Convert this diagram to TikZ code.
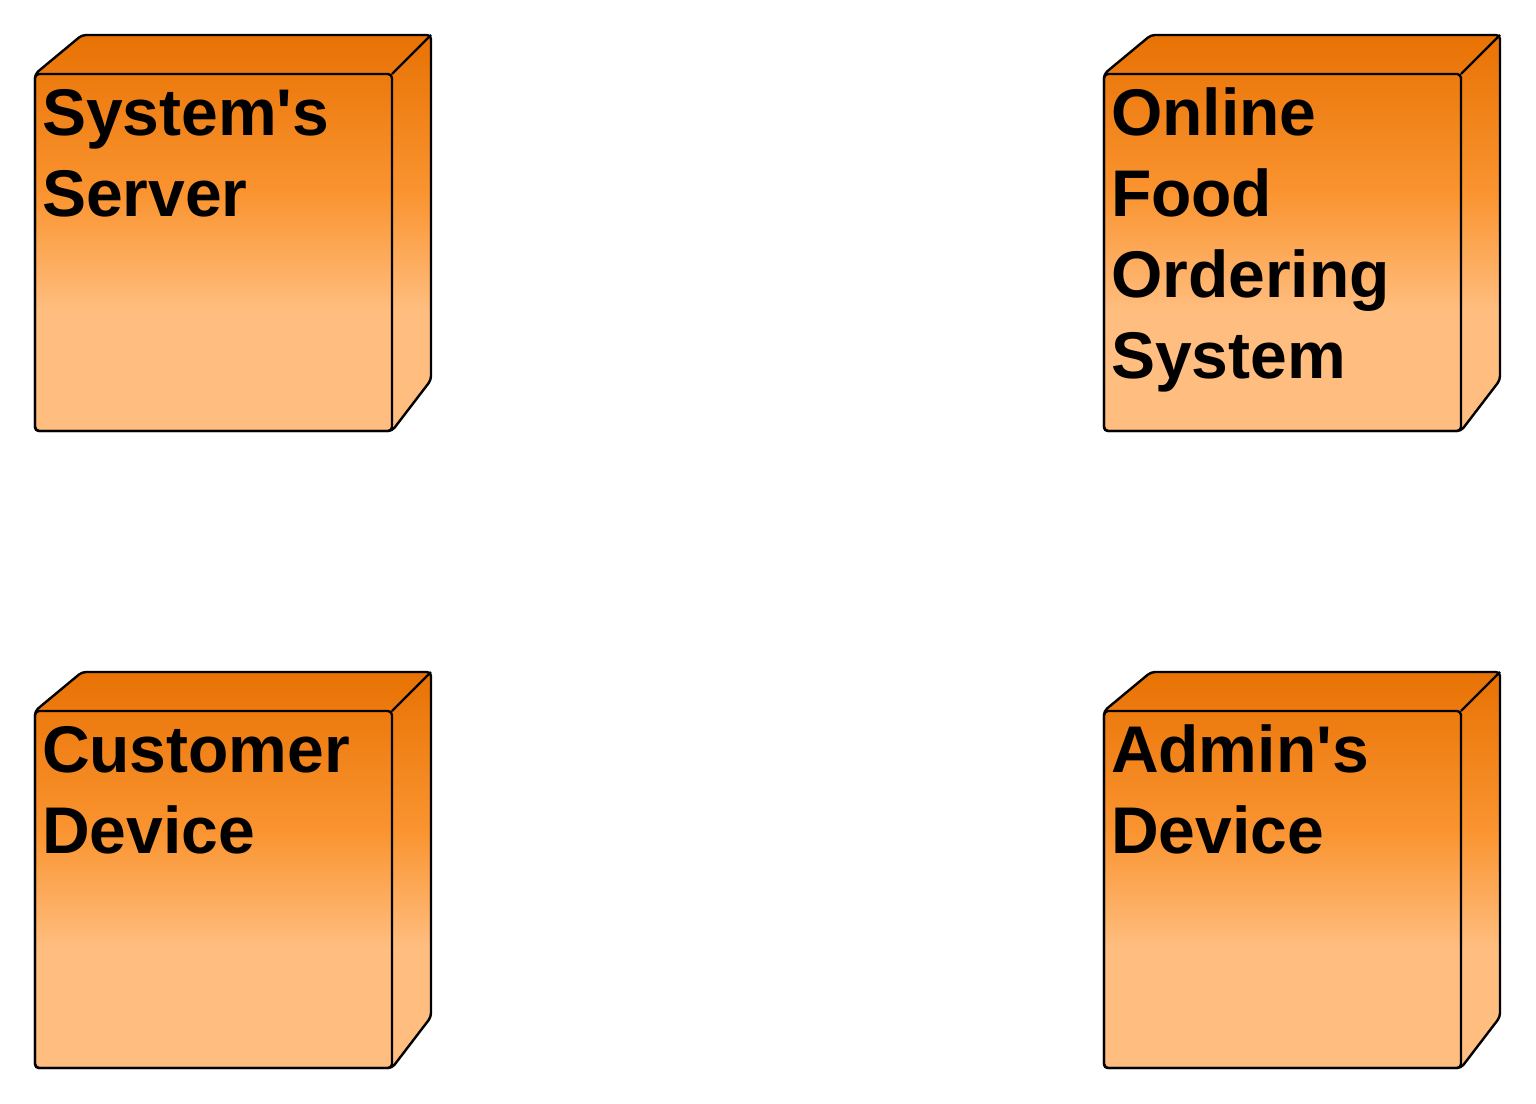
\documentclass[tikz,border=0pt]{standalone}
\usepackage{fontspec}
\setmainfont{Liberation Sans}
\usetikzlibrary{calc, backgrounds}
\definecolor{bodytop}{RGB}{232,114,4}
\definecolor{bodymid}{RGB}{250,148,48}
\definecolor{bodylow}{RGB}{255,190,128}
\pgfdeclareverticalshading{nodebody}{100bp}{color(0bp)=(bodylow); color(40bp)=(bodylow); color(55bp)=(bodymid); color(75bp)=(bodytop); color(100bp)=(bodytop)}

\begin{document}
\begin{tikzpicture}[
		x=0.5pt, y=-0.5pt,
		front/.style={draw=black, line width=1.2pt, rounded corners=2pt, anchor=north west,
			outer sep=0pt, inner xsep=3.5pt, inner ysep=0pt, text width=171.5pt,
			text height=30.5pt, text depth=148pt, align=left,
			font=\bfseries\fontsize{33}{40.5}\selectfont},
		body/.style={draw=black, line width=1.2pt, rounded corners=2pt, shading=nodebody},
		edge/.style={draw=black, line width=1.2pt}
		]
		\useasboundingbox (0,0) rectangle (1536,1103);
		
		% Deployment nodes
		\node[front] (server) at (35,74) {System\textquotesingle s\\Server};
		\node[front] (system) at (1104,74) {Online\\Food\\Ordering\\System};
		\node[front] (customer) at (35,711) {Customer\\Device};
		\node[front] (admin) at (1104,711) {Admin\textquotesingle s\\Device};
		
		% 3D body behind each node
		\begin{scope}[on background layer]
			\foreach \n in {server, system, customer, admin} {
				\path[body] (\n.south west) -- (\n.north west)
					-- ($(\n.north west)+(47,-39)$) -- ($(\n.north east)+(39,-39)$)
					-- ($(\n.south east)+(39,-51)$) -- (\n.south east) -- cycle;
				\draw[edge] (\n.north east) -- ($(\n.north east)+(39,-39)$);
			}
		\end{scope}
		
	\end{tikzpicture}
\end{document}
